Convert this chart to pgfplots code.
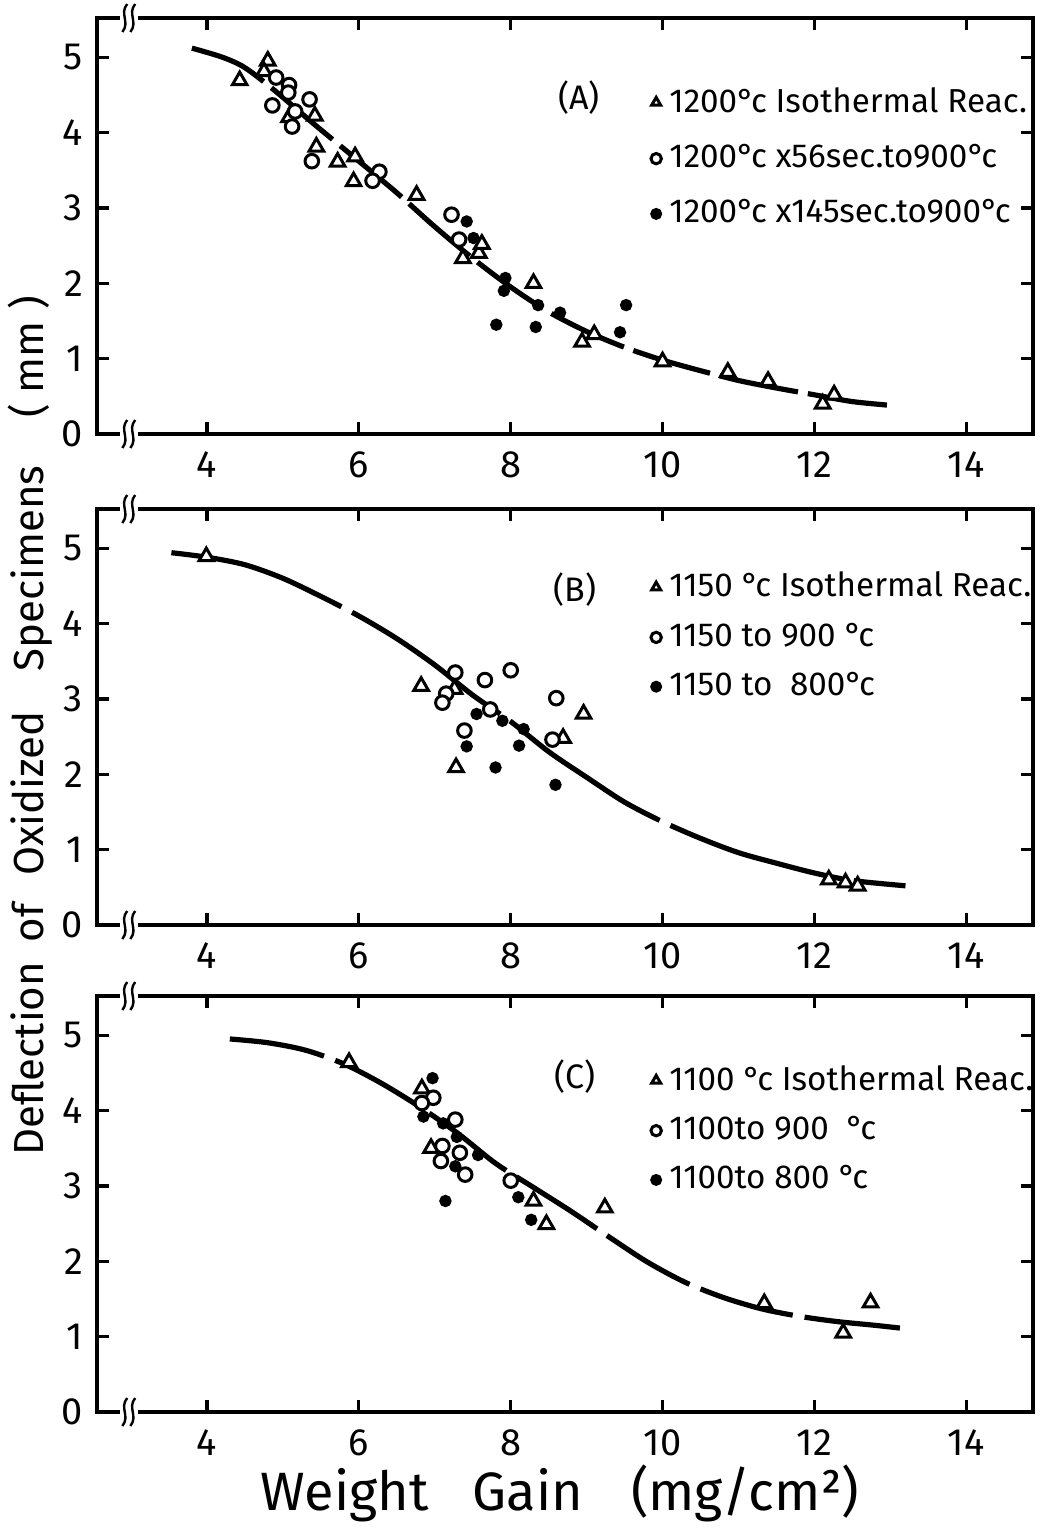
\documentclass[border=0pt]{standalone}
\usepackage{fontspec}
\setmainfont{Fira Sans}
\usepackage{pgfplots}
\pgfplotsset{compat=1.18}

% degree + lowercase c, set tight as in the original
\newcommand\dc{°\kern-0.9pt c}

% axis break mark "((" at x=3 on the bottom (y=0) or top (y=5.52) line
\newcommand\brk[1]{%
  \fill[white] ([xshift=-2.8pt,yshift=-0.9pt]axis cs:3,#1) rectangle ([xshift=1.8pt,yshift=0.9pt]axis cs:3,#1);
  \draw[line width=0.6pt] ([xshift=-2.2pt,yshift=-3.5pt]axis cs:3,#1) .. controls ([xshift=-0.2pt,yshift=-1pt]axis cs:3,#1) and ([xshift=-3pt,yshift=1pt]axis cs:3,#1) .. ([xshift=-1pt,yshift=3.5pt]axis cs:3,#1);
  \draw[line width=0.6pt] ([xshift=-0.2pt,yshift=-3.5pt]axis cs:3,#1) .. controls ([xshift=1.8pt,yshift=-1pt]axis cs:3,#1) and ([xshift=-1pt,yshift=1pt]axis cs:3,#1) .. ([xshift=1pt,yshift=3.5pt]axis cs:3,#1);
}

\pgfplotsset{
  panel/.style={
    scale only axis, width=234pt, height=104pt,
    anchor=south west,
    xmin=2.55, xmax=14.88, ymin=0, ymax=5.52,
    xtick={4,6,...,14}, ytick={0,...,5},
    tick align=inside, major tick length=3pt,
    axis line style={line width=0.8pt},
    every tick/.style={line width=0.8pt, black},
    tick label style={font=\fontsize{9.5}{10}\selectfont},
    /pgf/number format/assume math mode=true,
    xticklabel style={yshift=-1pt},
    clip=false,
    legend cell align=left,
    legend style={draw=none, fill=none, font=\fontsize{8.3}{9.3}\selectfont,
      anchor=north west, inner sep=0pt},
    legend image code/.code={\draw[#1] plot coordinates {(0pt,0pt)};},
    legend image post style={mark size=1.3pt},
  },
  tri/.style={only marks, mark=triangle*, mark size=2.1pt,
    mark options={line width=0.75pt, fill=white, draw=black}},
  ocirc/.style={only marks, mark=*, mark size=1.7pt,
    mark options={line width=0.75pt, fill=white, draw=black}},
  fdot/.style={only marks, mark=*, mark size=1.35pt,
    mark options={fill=black, draw=black}},
  fit/.style={line width=1.3pt, no marks, smooth, tension=0.5, forget plot},
}

\begin{document}
\begin{tikzpicture}
\useasboundingbox (0,0) rectangle (260.75pt,382.75pt);

% ---------- (A) 1200 C ----------
\begin{axis}[panel, at={(24.25pt,274.25pt)},
  legend style={at={(0.591,0.855)}, row sep=2.5pt}]
\addplot[fit, dash pattern=on 20pt off 2.5pt] coordinates {
  (3.8,5.12) (4.2,5.0) (4.5,4.86) (4.9,4.55) (5.4,4.12) (6.0,3.62)
  (6.5,3.2) (7.0,2.75) (7.5,2.33) (8.0,1.95) (8.5,1.62) (9.0,1.36)
  (9.5,1.15) (10.0,0.98) (10.5,0.84) (11.0,0.71) (11.5,0.61)
  (12.0,0.52) (12.5,0.43) (13.0,0.38)
};
\addplot[tri] coordinates {
  (4.43,4.69) (4.80,4.95) (4.75,4.81) (5.08,4.20) (5.42,4.22) (5.44,3.81)
  (5.72,3.61) (5.95,3.68) (5.93,3.35) (6.76,3.17) (7.37,2.33) (7.58,2.40)
  (7.62,2.52) (8.30,2.00) (8.94,1.22) (9.10,1.32) (10.0,0.96) (10.86,0.82)
  (11.39,0.70) (12.11,0.40) (12.26,0.52)
};
\addlegendentry{1200\dc\ Isothermal Reac.}
\addplot[ocirc] coordinates {
  (4.91,4.73) (5.08,4.63) (5.07,4.53) (4.86,4.36) (5.35,4.44) (5.16,4.28)
  (5.12,4.08) (5.38,3.62) (6.27,3.48) (6.18,3.36) (7.22,2.91) (7.32,2.58)
};
\addlegendentry{1200\dc\ x56sec.to900\dc}
\addplot[fdot] coordinates {
  (7.42,2.82) (7.51,2.60) (7.93,2.07) (7.91,1.90) (7.81,1.45) (8.36,1.71)
  (8.65,1.61) (8.33,1.42) (9.44,1.35) (9.52,1.71)
};
\addlegendentry{1200\dc\ x145sec.to900\dc}
\node[font=\fontsize{8.5}{9.5}\selectfont] at (axis cs:8.9,4.47) {(A)};
\brk{0}\brk{5.52}
\end{axis}

% ---------- (B) 1150 C ----------
\begin{axis}[panel, at={(24.25pt,151.5pt)},
  legend style={at={(0.591,0.87)}, row sep=1pt}]
\addplot[fit, dash pattern=on 45pt off 3pt] coordinates {
  (3.53,4.94) (4.0,4.88) (4.5,4.78) (5.0,4.6) (5.5,4.36) (6.0,4.1)
  (6.5,3.8) (7.0,3.45) (7.5,3.05) (8.0,2.7) (8.5,2.3) (9.0,1.96)
  (9.5,1.63) (10.0,1.37) (10.5,1.15) (11.0,0.96) (11.5,0.82)
  (12.0,0.69) (12.5,0.59) (13.2,0.52)
};
\addplot[tri] coordinates {
  (3.99,4.89) (6.82,3.17) (7.26,3.13) (7.28,2.09) (8.96,2.80) (8.69,2.48)
  (12.19,0.60) (12.41,0.56) (12.57,0.52)
};
\addlegendentry{1150 \dc\ Isothermal Reac.}
\addplot[ocirc] coordinates {
  (7.27,3.35) (7.15,3.07) (7.10,2.95) (7.66,3.25) (8.0,3.38) (7.73,2.86)
  (7.39,2.58) (8.60,3.01) (8.55,2.46)
};
\addlegendentry{1150 to 900 \dc}
\addplot[fdot] coordinates {
  (7.55,2.80) (7.89,2.71) (8.17,2.60) (8.11,2.38) (7.42,2.37) (7.80,2.09)
  (8.59,1.86)
};
\addlegendentry{1150 to\ \ 800\dc}
\node[font=\fontsize{8.5}{9.5}\selectfont] at (axis cs:8.85,4.45) {(B)};
\brk{0}\brk{5.52}
\end{axis}

% ---------- (C) 1100 C ----------
\begin{axis}[panel, at={(24.25pt,29.75pt)},
  legend style={at={(0.591,0.855)}, row sep=1pt}]
\addplot[fit, dash pattern=on 24pt off 3pt] coordinates {
  (4.3,4.95) (4.8,4.9) (5.3,4.8) (5.8,4.62) (6.3,4.36) (6.8,4.05)
  (7.3,3.70) (7.8,3.30) (8.3,2.98) (8.8,2.66) (9.3,2.32) (9.8,1.99)
  (10.3,1.72) (10.8,1.52) (11.3,1.37) (11.8,1.27) (12.3,1.2)
  (12.8,1.15) (13.25,1.1)
};
\addplot[tri] coordinates {
  (5.87,4.64) (6.83,4.29) (6.95,3.50) (8.30,2.80) (8.47,2.49) (9.24,2.71)
  (11.34,1.44) (12.38,1.05) (12.74,1.45)
};
\addlegendentry{1100 \dc\ Isothermal Reac.}
\addplot[ocirc] coordinates {
  (6.98,4.17) (6.83,4.10) (7.27,3.88) (7.10,3.53) (7.08,3.33) (7.33,3.44)
  (7.40,3.15) (8.0,3.07)
};
\addlegendentry{1100to 900\ \ \dc}
\addplot[fdot] coordinates {
  (6.97,4.43) (6.85,3.92) (7.11,3.83) (7.29,3.65) (7.57,3.41) (7.27,3.26)
  (7.14,2.80) (8.10,2.85) (8.27,2.55)
};
\addlegendentry{1100to 800 \dc}
\node[font=\fontsize{8.5}{9.5}\selectfont] at (axis cs:8.85,4.45) {(C)};
\brk{0}\brk{5.52}
\end{axis}

% shared axis titles
\node[rotate=90, anchor=base, font=\fontsize{10.5}{12}\selectfont]
  at (10.75pt,201.25pt)
  {Deflection\hspace{5pt}of\hspace{7pt}Oxidized\hspace{10pt}Specimens\hspace{12pt}( mm )};
\node[anchor=base, font=\fontsize{13.5}{15}\selectfont]
  at (140pt,5.25pt) {Weight\hspace{11pt}Gain\hspace{12pt}(mg/cm²)};
\end{tikzpicture}
\end{document}
